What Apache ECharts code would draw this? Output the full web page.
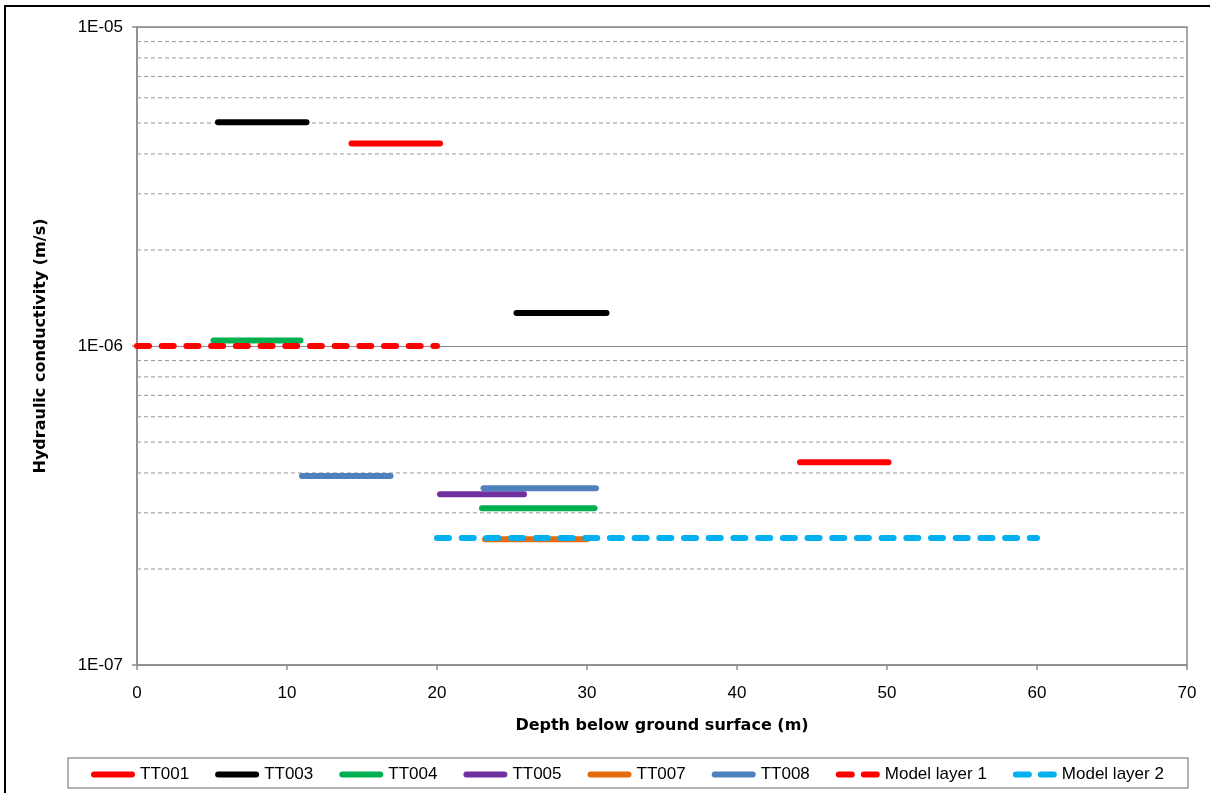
<!DOCTYPE html>
<html>
<head>
<meta charset="utf-8">
<title>Hydraulic conductivity vs depth</title>
<script src="https://cdn.jsdelivr.net/npm/echarts@6/dist/echarts.min.js"></script>
<style>
  html, body { margin: 0; padding: 0; background: #fff; }
  #chart { width: 1210px; height: 793px; }
</style>
</head>
<body>
<div id="chart"></div>
<script>
// Tested intervals: [depth from (m), depth to (m), hydraulic conductivity (m/s)]
const tt001 = [[14.3, 20.2, 4.31e-6], [44.2, 50.1, 4.32e-7]];
const tt003 = [[5.4, 11.3, 5.03e-6], [25.3, 31.3, 1.27e-6]];
const tt004 = [[5.1, 10.9, 1.04e-6], [23.0, 30.5, 3.10e-7]];
const tt005 = [[20.2, 25.8, 3.43e-7]];
const tt007 = [[23.2, 30.0, 2.48e-7]];
const tt008 = [[11.0, 16.9, 3.91e-7], [23.1, 30.6, 3.58e-7]];
// Model layers: [depth from, depth to, K]
const modelLayer1 = [[0, 20, 1.0e-6]];
const modelLayer2 = [[20, 60, 2.5e-7]];

// Axis ranges and minor log gridlines
const xTicks = [0, 70, 10];            // min, max, interval
const yRange = [1e-7, 1e-5];
const yMinorLines = [2e-7, 3e-7, 4e-7, 5e-7, 6e-7, 7e-7, 8e-7, 9e-7,
                     2e-6, 3e-6, 4e-6, 5e-6, 6e-6, 7e-6, 8e-6, 9e-6];

const legendNames = ['TT001', 'TT003', 'TT004', 'TT005', 'TT007', 'TT008', 'Model layer 1', 'Model layer 2'];

const colors = {
  'TT001': '#FF0000',
  'TT003': '#000000',
  'TT004': '#00B050',
  'TT005': '#7030A0',
  'TT007': '#E46C0A',
  'TT008': '#4F81BD',
  'Model layer 1': '#FF0000',
  'Model layer 2': '#00B0F0'
};

const LW = 6;
const plotDash = [12, 12.7];

// Legend swatches: a rounded bar for tests, two rounded dashes for model layers
const ICON_SOLID = 'path://M3,0L41,0A3,3 0 0 1 41,6L3,6A3,3 0 0 1 3,0Z';
const ICON_DASHED = 'path://M3,0L16,0A3,3 0 0 1 16,6L3,6A3,3 0 0 1 3,0Z' +
                    'M28,0L41,0A3,3 0 0 1 41,6L28,6A3,3 0 0 1 28,0Z';

function segSeries(name, segs, dashed) {
  return segs.map(s => ({
    name: name,
    type: 'line',
    data: [[s[0], s[2]], [s[1], s[2]]],
    symbol: 'none',
    z: 3,
    silent: true,
    lineStyle: {
      color: colors[name],
      width: LW,
      cap: 'round',
      type: dashed ? plotDash : 'solid'
    },
    itemStyle: { color: colors[name] }
  }));
}

// Dashed gridlines at 2..9 within each decade
const minorGridSeries = yMinorLines.map(v => ({
  name: 'grid-' + v,
  type: 'line',
  data: [[xTicks[0], v], [xTicks[1], v]],
  symbol: 'none',
  z: 1,
  silent: true,
  lineStyle: { color: '#969696', width: 1, type: [4, 3] },
  emphasis: { disabled: true },
  tooltip: { show: false }
}));

function expLabel(v) {
  const e = Math.round(Math.log10(v));
  return '1E' + (e < 0 ? '-' : '+') + String(Math.abs(e)).padStart(2, '0');
}

const series = [
  ...minorGridSeries,
  ...segSeries('TT001', tt001),
  ...segSeries('TT003', tt003),
  ...segSeries('TT004', tt004),
  ...segSeries('TT005', tt005),
  ...segSeries('TT007', tt007),
  ...segSeries('TT008', tt008),
  ...segSeries('Model layer 1', modelLayer1, true),
  ...segSeries('Model layer 2', modelLayer2, true)
];

const chart = echarts.init(document.getElementById('chart'), null, { renderer: 'canvas' });

chart.setOption({
  animation: false,
  backgroundColor: '#ffffff',
  textStyle: { fontFamily: 'Liberation Sans, Arial, sans-serif', color: '#000' },
  grid: {
    left: 137, right: 23, top: 27, bottom: 128,
    show: true, borderColor: '#8c8c8c', borderWidth: 1.5, backgroundColor: 'transparent'
  },
  xAxis: {
    type: 'value',
    min: xTicks[0], max: xTicks[1], interval: xTicks[2],
    name: 'Depth below ground surface (m)',
    nameLocation: 'middle',
    nameGap: 53,
    nameTextStyle: { fontFamily: 'DejaVu Sans', fontWeight: 'bold', fontSize: 16, color: '#000' },
    axisLine: { show: true, lineStyle: { color: '#8c8c8c', width: 1.5 } },
    axisTick: { show: true, length: 5, lineStyle: { color: '#8c8c8c', width: 1.5 } },
    axisLabel: { fontSize: 17, color: '#000', margin: 20, fontFamily: 'Liberation Sans' },
    splitLine: { show: false }
  },
  yAxis: {
    type: 'log',
    logBase: 10,
    min: yRange[0], max: yRange[1],
    name: 'Hydraulic conductivity (m/s)',
    nameLocation: 'middle',
    nameGap: 88,
    nameTextStyle: { fontFamily: 'DejaVu Sans', fontWeight: 'bold', fontSize: 16, color: '#000' },
    axisLine: { show: true, lineStyle: { color: '#8c8c8c', width: 1.5 } },
    axisTick: { show: true, length: 5, lineStyle: { color: '#8c8c8c', width: 1.5 } },
    axisLabel: { fontSize: 17, color: '#000', margin: 14, fontFamily: 'Liberation Sans', formatter: expLabel },
    splitLine: { show: true, lineStyle: { color: '#8c8c8c', width: 1.2, type: 'solid' } },
    minorTick: { show: false },
    minorSplitLine: { show: false }
  },
  legend: {
    show: true,
    left: 91,
    top: 766,
    padding: 0,
    itemWidth: 44,
    itemHeight: 6,
    itemGap: 26,
    selectedMode: false,
    textStyle: { fontSize: 17, color: '#000', fontFamily: 'Liberation Sans' },
    data: legendNames.map(n => ({
      name: n,
      icon: n.startsWith('Model') ? ICON_DASHED : ICON_SOLID,
      itemStyle: { color: colors[n], borderWidth: 0 }
    }))
  },
  graphic: [
    {
      type: 'rect',
      silent: true,
      shape: { x: 68, y: 758, width: 1120, height: 30 },
      style: { fill: 'none', stroke: '#999999', lineWidth: 1.5 },
      z: 0
    },
    {
      type: 'rect',
      silent: true,
      shape: { x: 5, y: 6, width: 1400, height: 1000 },
      style: { fill: 'none', stroke: '#000000', lineWidth: 2 },
      z: 0
    }
  ],
  series: series
});
</script>
</body>
</html>
